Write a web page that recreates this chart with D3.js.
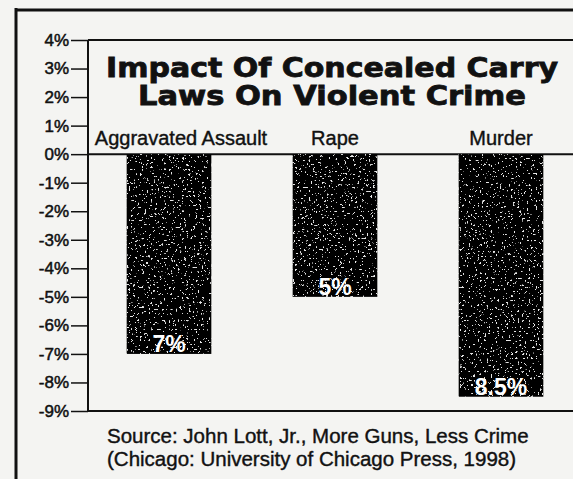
<!DOCTYPE html>
<html>
<head>
<meta charset="utf-8">
<script src="https://cdn.jsdelivr.net/npm/d3@7"></script>
<style>
  body { margin: 0; background: #f4f4f2; }
  svg { display: block; }
  text { font-family: "Liberation Sans", Arial, sans-serif; fill: #111; }
</style>
</head>
<body>
<div id="chart"></div>
<script>
var categories = ["Aggravated Assault", "Rape", "Murder"];
var values = [-7, -5, -8.5];
var valueLabels = ["7%", "5%", "8.5%"];
var yTicks = [4, 3, 2, 1, 0, -1, -2, -3, -4, -5, -6, -7, -8, -9];
var titleLines = ["Impact Of Concealed Carry", "Laws On Violent Crime"];
var sourceLines = ["Source: John Lott, Jr., More Guns, Less Crime",
                   "(Chicago: University of Chicago Press, 1998)"];

var width = 573, height = 479;

var svg = d3.select("#chart")
  .append("svg")
    .attr("width", width)
    .attr("height", height);

// speckled ink texture for the bars
var defs = svg.append("defs");
var filter = defs.append("filter").attr("id", "speckle")
    .attr("x", 0).attr("y", 0).attr("width", 1).attr("height", 1);
filter.append("feTurbulence")
    .attr("type", "fractalNoise")
    .attr("baseFrequency", 0.45)
    .attr("numOctaves", 2)
    .attr("seed", 7)
    .attr("result", "noise");
filter.append("feColorMatrix")
    .attr("in", "noise")
    .attr("type", "matrix")
    .attr("values", "0 0 0 0 0.8  0 0 0 0 0.8  0 0 0 0 0.8  0 0 0 22 -14.6")
    .attr("result", "dots");
filter.append("feComposite")
    .attr("in", "dots").attr("in2", "SourceGraphic")
    .attr("operator", "in").attr("result", "clipped");
filter.append("feMerge").call(function(m) {
  m.append("feMergeNode").attr("in", "SourceGraphic");
  m.append("feMergeNode").attr("in", "clipped");
});

// outer frame
svg.append("line")
    .attr("x1", 16).attr("x2", 16).attr("y1", 8).attr("y2", height)
    .attr("stroke", "#111").attr("stroke-width", 3);
svg.append("line")
    .attr("x1", 15).attr("x2", width).attr("y1", 10).attr("y2", 10)
    .attr("stroke", "#111").attr("stroke-width", 3);

var y = d3.scaleLinear()
    .domain([4, -9])
    .range([40, 411]);

var x = d3.scaleBand()
    .domain(categories)
    .range([86, 584])
    .paddingInner(0.49)
    .paddingOuter(0.245);

// y axis
var yAxis = svg.append("g")
    .attr("transform", "translate(88,0)")
    .call(d3.axisLeft(y)
      .tickValues(yTicks)
      .tickSize(17)
      .tickPadding(2)
      .tickFormat(function(d) { return d + "%"; }));
yAxis.select(".domain").remove();
yAxis.selectAll(".tick line").attr("stroke", "#111").attr("stroke-width", 1.5);
yAxis.selectAll(".tick text")
    .style("font-size", "17px")
    .style("font-family", "\"Liberation Sans\", Arial, sans-serif")
    .style("stroke", "#111")
    .style("stroke-width", "0.5px")
    .attr("fill", "#111");

svg.append("line")
    .attr("x1", 88).attr("x2", 88).attr("y1", y(4)).attr("y2", y(-9))
    .attr("stroke", "#111").attr("stroke-width", 2);

// horizontal rules at 4%, 0% and -9%
svg.selectAll(".rule")
  .data([4, 0, -9])
  .enter()
  .append("line")
    .attr("class", "rule")
    .attr("x1", 88).attr("x2", width)
    .attr("y1", function(d) { return y(d); })
    .attr("y2", function(d) { return y(d); })
    .attr("stroke", "#111").attr("stroke-width", 2);

// bars
svg.selectAll(".bar")
  .data(values)
  .enter()
  .append("rect")
    .attr("class", "bar")
    .attr("x", function(d, i) { return x(categories[i]); })
    .attr("y", y(0))
    .attr("width", x.bandwidth())
    .attr("height", function(d) { return y(d) - y(0); })
    .attr("fill", "#060606")
    .attr("filter", "url(#speckle)");

// value labels
svg.selectAll(".vlabel")
  .data(values)
  .enter()
  .append("text")
    .attr("class", "vlabel")
    .attr("x", function(d, i) { return x(categories[i]) + x.bandwidth() / 2; })
    .attr("y", function(d) { return y(d) - 2; })
    .attr("text-anchor", "middle")
    .style("font-size", "23px")
    .style("font-weight", "bold")
    .style("fill", "#fff")
    .text(function(d, i) { return valueLabels[i]; });

// category labels
svg.selectAll(".clabel")
  .data(categories)
  .enter()
  .append("text")
    .attr("class", "clabel")
    .attr("x", function(d, i) { return x(d) + x.bandwidth() / 2 + (i === 0 ? 12 : 0); })
    .attr("y", 145)
    .attr("text-anchor", "middle")
    .style("font-size", "20px")
    .style("stroke", "#111")
    .style("stroke-width", "0.4px")
    .text(function(d) { return d; });

// title
var titleWidths = [452, 388];
svg.selectAll(".title")
  .data(titleLines)
  .enter()
  .append("text")
    .attr("class", "title")
    .attr("x", 332)
    .attr("y", function(d, i) { return 77 + i * 28; })
    .attr("text-anchor", "middle")
    .attr("textLength", function(d, i) { return titleWidths[i]; })
    .attr("lengthAdjust", "spacingAndGlyphs")
    .style("font-family", "\"DejaVu Sans\", sans-serif")
    .style("font-size", "26px")
    .style("font-weight", "bold")
    .style("stroke", "#111")
    .style("stroke-width", "0.8px")
    .text(function(d) { return d; });

// source
svg.selectAll(".source")
  .data(sourceLines)
  .enter()
  .append("text")
    .attr("class", "source")
    .attr("x", 107)
    .attr("y", function(d, i) { return 443 + i * 23; })
    .attr("text-anchor", "start")
    .style("font-size", "20.5px")
    .style("stroke", "#111")
    .style("stroke-width", "0.4px")
    .text(function(d) { return d; });
</script>
</body>
</html>
